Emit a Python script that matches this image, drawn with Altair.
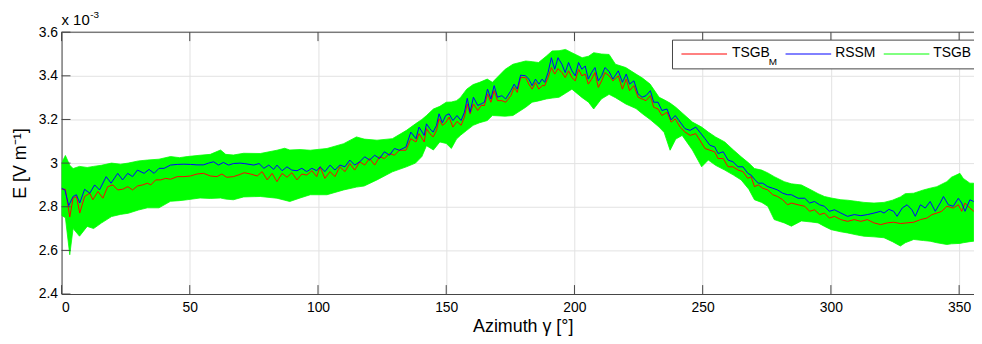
import altair as alt
import pandas as pd

# ---------------- data (E in units of 1e-3 V/m) ----------------
rssm_az = [0, 1.3, 2.8, 4.5, 5.8, 7.1, 9.0, 11.0, 12.9, 14.8, 17.4, 19.3, 21.9, 23.8, 25.8, 27.7, 29.6, 32.2, 34.1, 36.1,
           38.0, 40.0, 42.5, 45.1, 47.7, 50.3, 52.8, 55.4, 57.3, 59.3, 61.2, 63.1, 65.1, 67.0, 69.6,
           71.2, 75.0, 77.0, 78.9, 80.8, 82.7, 84.0, 86.0, 87.9, 89.8, 91.8, 93.7, 95.6, 97.6, 99.5, 100.8, 102.7, 104.7,
           106.6, 108.5, 110.5, 112.4, 114.3, 116.3, 118.2, 120.1, 122.1, 124.0, 125.9, 127.9, 129.8, 131.7, 134.3, 136.2,
           138.2, 139.4, 141.4,
           142.3, 143.6, 144.9, 146.2, 147.2, 148.5, 149.8, 151.1, 152.6, 154.2, 155.8, 157.1, 158.2, 159.3, 160.6, 162.3,
           163.6, 164.9, 166.1, 167.4, 168.7, 170.0, 171.7, 173.2, 175.2, 176.5, 177.7, 179.0, 181.0, 182.2, 183.5, 184.8,
           186.1, 187.4, 188.4, 189.7, 191.0, 192.3, 193.6, 195.1, 196.4, 197.7, 199.0, 200.3, 201.6, 202.9, 204.2, 205.4,
           206.7, 208.0, 209.3, 210.6, 211.9,
           213.5, 215.0, 217.1, 218.7, 220.2, 221.5, 223.2, 224.8, 226.4, 227.9, 229.6, 230.9, 232.6, 234.1, 236.1, 237.7,
           239.3, 241.2, 243.1, 245.1, 247.3, 248.9, 250.9, 252.8, 254.7, 256.0, 258.0, 259.9, 261.8, 263.8, 265.7, 267.6,
           268.9, 270.2, 271.7, 273.4, 275.4, 277.3, 279.2, 281.2, 283.1,
           284.6, 287.2, 289.8, 291.7, 293.6, 295.6, 297.5, 299.4, 301.4, 303.9, 306.5, 309.1, 311.7, 314.2, 316.8, 319.4,
           320.7, 322.6, 324.5, 325.8, 327.8, 329.7, 331.6, 332.9, 334.9, 336.8, 338.7, 340.7, 342.6, 343.9, 345.8, 347.7,
           349.7, 351.0, 352.3, 354.2, 355.7]
rssm_e = [2.885, 2.877, 2.805, 2.847, 2.855, 2.817, 2.88, 2.862, 2.9, 2.877, 2.938, 2.908, 2.953, 2.923, 2.953, 2.938, 2.968,
          2.953, 2.971, 2.953, 2.976, 2.976, 2.991, 2.994, 2.995, 2.994, 2.992, 2.992, 3.0, 3.006, 2.991, 3.003, 2.991, 2.998, 3.0,
          2.998, 2.991, 2.998, 2.976, 2.991, 2.971, 2.991, 2.965, 2.983, 2.968, 2.965, 2.976, 2.961, 2.976, 2.965, 2.983,
          2.961, 2.991, 2.968, 2.991, 2.983, 3.014, 2.991, 3.006, 3.029, 3.014, 3.036, 3.021, 3.052, 3.036, 3.067, 3.059,
          3.074, 3.142, 3.112, 3.165, 3.127,
          3.18, 3.158, 3.142, 3.173, 3.226, 3.185, 3.218, 3.226, 3.195, 3.218, 3.195, 3.233, 3.297, 3.233, 3.302, 3.264,
          3.271, 3.279, 3.339, 3.294, 3.355, 3.302, 3.309, 3.294, 3.332, 3.362, 3.339, 3.403, 3.4, 3.385, 3.355, 3.385,
          3.362, 3.385, 3.37, 3.415, 3.483, 3.43, 3.483, 3.453, 3.415, 3.461, 3.423, 3.4, 3.461, 3.43, 3.445, 3.385,
          3.415, 3.438, 3.377, 3.4, 3.438,
          3.42, 3.385, 3.423, 3.37, 3.408, 3.362, 3.377, 3.317, 3.302, 3.309, 3.332, 3.279, 3.279, 3.241, 3.248, 3.198,
          3.218, 3.188, 3.158, 3.15, 3.165, 3.142, 3.112, 3.082, 3.074, 3.044, 3.052, 3.014, 3.006, 2.983, 2.983, 2.953,
          2.945, 2.926, 2.908, 2.908, 2.892, 2.885, 2.877, 2.862, 2.855,
          2.855, 2.839, 2.839, 2.817, 2.824, 2.809, 2.802, 2.779, 2.786, 2.771, 2.756, 2.764, 2.759, 2.764, 2.771, 2.779,
          2.771, 2.788, 2.779, 2.756, 2.794, 2.809, 2.786, 2.756, 2.809, 2.794, 2.824, 2.779, 2.817, 2.847, 2.809, 2.802,
          2.839, 2.817, 2.779, 2.832, 2.824]

tsgbm_az = [0, 1.5, 3.2, 4.5, 5.8, 7.1, 9.0, 11.0, 12.2, 14.2, 16.1, 18.0, 20.0, 21.9, 23.8, 25.8, 27.7, 29.6, 31.6, 33.5,
            34.8, 36.7, 38.7, 40.6, 42.5, 45.1, 47.7, 50.3, 52.8, 55.4, 58.0, 60.6, 62.5, 64.4, 67.0, 69.6,
            71.2, 73.7, 76.3, 78.2, 80.2, 82.1, 84.0, 86.0, 87.9, 89.8, 91.8, 93.7, 95.6, 97.6, 99.5, 100.8, 102.7, 104.7,
            106.6, 108.5, 110.5, 112.4, 114.3, 116.3, 118.2, 120.1, 122.1, 124.0, 125.9, 127.9, 129.8, 131.7, 134.3, 136.2,
            138.2, 139.4, 141.4,
            142.3, 143.6, 144.9, 146.2, 147.2, 148.5, 149.8, 151.1, 152.6, 154.2, 155.8, 157.1, 158.2, 159.3, 160.6, 162.3,
            163.6, 164.9, 166.1, 167.4, 168.7, 170.0, 171.7, 173.2, 175.2, 176.5, 177.7, 179.0, 181.0, 182.2, 183.5, 184.8,
            186.1, 187.4, 188.4, 189.7, 191.0, 192.3, 193.6, 195.1, 196.4, 197.7, 199.0, 200.3, 201.6, 202.9, 204.2, 205.4,
            206.7, 208.0, 209.3, 210.6, 211.9,
            213.5, 215.0, 217.1, 218.7, 220.2, 221.5, 223.2, 224.8, 226.4, 227.9, 229.6, 230.9, 232.6, 234.1, 236.1, 237.7,
            239.3, 241.2, 243.1, 245.1, 247.3, 248.9, 250.9, 252.8, 254.7, 256.0, 258.0, 259.9, 261.8, 263.8, 265.7, 267.6,
            268.9, 270.2, 271.7, 273.4, 275.4, 277.3, 279.2, 281.2, 283.1,
            284.6, 287.2, 289.8, 291.7, 293.6, 295.6, 297.5, 299.4, 301.4, 303.9, 306.5, 309.1, 311.7, 314.2, 316.8, 319.4,
            322.0, 324.5, 327.1, 329.7, 332.3, 334.9, 337.4, 339.4, 341.3, 343.2, 345.2, 347.7, 349.7, 351.0, 352.3, 354.2,
            355.7]
tsgbm_e = [2.88, 2.88, 2.753, 2.839, 2.847, 2.771, 2.847, 2.862, 2.832, 2.87, 2.839, 2.892, 2.9, 2.877, 2.88, 2.892, 2.877,
           2.895, 2.9, 2.908, 2.9, 2.923, 2.923, 2.93, 2.926, 2.938, 2.938, 2.941, 2.95, 2.953, 2.941, 2.938, 2.95, 2.935,
           2.938, 2.948,
           2.956, 2.95, 2.941, 2.961, 2.923, 2.953, 2.915, 2.953, 2.935, 2.956, 2.923, 2.95, 2.945, 2.965, 2.938, 2.983,
           2.93, 2.961, 2.938, 2.983, 2.961, 2.998, 2.968, 3.006, 2.991, 3.021, 2.991, 3.029, 3.021, 3.044, 3.036, 3.059,
           3.059, 3.112, 3.097, 3.135, 3.097,
           3.158, 3.135, 3.12, 3.15, 3.203, 3.173, 3.185, 3.211, 3.165, 3.191, 3.173, 3.211, 3.271, 3.226, 3.271, 3.241,
           3.264, 3.264, 3.317, 3.279, 3.332, 3.286, 3.286, 3.279, 3.309, 3.347, 3.324, 3.392, 3.392, 3.362, 3.339, 3.37,
           3.339, 3.355, 3.355, 3.392, 3.438, 3.408, 3.433, 3.415, 3.392, 3.423, 3.392, 3.377, 3.43, 3.4, 3.408, 3.362,
           3.385, 3.415, 3.347, 3.377, 3.415,
           3.4, 3.377, 3.4, 3.339, 3.385, 3.332, 3.355, 3.302, 3.294, 3.286, 3.309, 3.256, 3.248, 3.218, 3.233, 3.188,
           3.203, 3.165, 3.142, 3.127, 3.135, 3.105, 3.067, 3.059, 3.052, 3.021, 3.021, 2.983, 2.983, 2.968, 2.961, 2.93,
           2.938, 2.892, 2.9, 2.885, 2.877, 2.855, 2.847, 2.832, 2.809,
           2.817, 2.809, 2.802, 2.779, 2.786, 2.764, 2.771, 2.748, 2.756, 2.741, 2.733, 2.741, 2.733, 2.741, 2.726, 2.718,
           2.726, 2.729, 2.723, 2.726, 2.729, 2.741, 2.748, 2.764, 2.771, 2.779, 2.802, 2.794, 2.809, 2.779, 2.817, 2.794,
           2.779]

# envelope of the TSGB ensemble (lower / upper edge of the green band)
tsgb_az = [0, 1.5, 3.2, 4.5, 7, 10, 12.5, 15.5, 19.5, 23, 26, 30, 33.5, 38, 42.5, 46, 49, 54, 58, 62, 64, 67, 71, 77.5,
           84, 87, 89, 93, 97, 103.5, 110, 115, 118, 123, 129, 134.5, 138, 140.5, 142.3, 145, 147.5, 150, 152, 154, 155.5,
           158, 160.5, 163, 166, 168, 173, 176, 181, 183.5, 186, 189, 191.3, 194, 196.5, 199, 203, 205.5, 207.5, 210.5,
           213.5, 216, 220, 224, 226.5, 229.5, 233, 235, 237.3, 239.5, 242, 246, 249.6, 252.2, 255, 258.6, 262, 265, 268,
           270.2, 273, 275.4, 277.9, 281.8, 284.6, 288.5, 292.3, 295, 297.5, 300.1, 303.9, 306.5, 310.4, 312.9, 316.8,
           320.7, 324, 327.1, 329, 332.3, 336.1, 338.7, 341.3, 345.2, 347, 350.3, 351.6, 354.2, 355.7]
tsgb_lo = [2.76, 2.75, 2.58, 2.70, 2.665, 2.71, 2.70, 2.725, 2.755, 2.765, 2.77, 2.785, 2.795, 2.795, 2.825, 2.828, 2.832,
           2.84, 2.838, 2.84, 2.835, 2.832, 2.845, 2.847, 2.839, 2.83, 2.824, 2.84, 2.855, 2.855, 2.877, 2.89, 2.895, 2.923,
           2.96, 2.983, 3.0, 3.03, 3.08, 3.06, 3.097, 3.09, 3.067, 3.11, 3.127, 3.15, 3.173, 3.185, 3.195, 3.218, 3.215,
           3.218, 3.256, 3.279, 3.285, 3.294, 3.298, 3.302, 3.32, 3.339, 3.30, 3.279, 3.248, 3.294, 3.315, 3.30, 3.271,
           3.25, 3.226, 3.20, 3.165, 3.14, 3.059, 3.11, 3.127, 3.06, 2.983, 3.014, 2.99, 2.968, 2.945, 2.923, 2.88, 2.832,
           2.82, 2.802, 2.741, 2.726, 2.711, 2.735, 2.73, 2.726, 2.71, 2.695, 2.685, 2.68, 2.67, 2.665, 2.662, 2.658, 2.64,
           2.62, 2.635, 2.65, 2.645, 2.642, 2.635, 2.627, 2.63, 2.632, 2.635, 2.64, 2.642]
tsgb_hi = [3.0, 3.035, 2.99, 2.975, 2.985, 2.98, 2.985, 2.99, 3.0, 2.995, 3.0, 3.01, 3.014, 3.018, 3.03, 3.025, 3.03, 3.036,
           3.04, 3.06, 3.04, 3.037, 3.045, 3.044, 3.059, 3.068, 3.06, 3.062, 3.059, 3.067, 3.089, 3.12, 3.11, 3.105, 3.112,
           3.15, 3.18, 3.2, 3.218, 3.248, 3.26, 3.279, 3.28, 3.286, 3.30, 3.339, 3.36, 3.37, 3.385, 3.37, 3.43, 3.453,
           3.468, 3.465, 3.461, 3.49, 3.514, 3.515, 3.521, 3.506, 3.483, 3.49, 3.506, 3.50, 3.498, 3.453, 3.438, 3.408,
           3.39, 3.362, 3.302, 3.29, 3.275, 3.256, 3.23, 3.188, 3.165, 3.142, 3.12, 3.097, 3.06, 3.029, 3.0, 2.975, 2.968,
           2.955, 2.938, 2.915, 2.905, 2.9, 2.877, 2.86, 2.847, 2.84, 2.832, 2.83, 2.824, 2.82, 2.817, 2.82, 2.83, 2.845,
           2.86, 2.862, 2.877, 2.885, 2.892, 2.915, 2.935, 2.953, 2.93, 2.908, 2.908]

x_ticks = [0, 50, 100, 150, 200, 250, 300, 350]
y_ticks = [2.4, 2.6, 2.8, 3.0, 3.2, 3.4, 3.6]
series_names = ["TSGB", "RSSM", "TSGB"]
series_colors = ["#ff0000", "#0000ff", "#00ff00"]

# ---------------- layout ----------------
X_MAX = 355.8
W, H = 920, 264
FONT = "Liberation Sans"
AX = "#444444"
GRID = "#e2e2e2"
TICK_LEN = 9

x_scale = alt.Scale(domain=[0, X_MAX], nice=False, zero=False)
y_scale = alt.Scale(domain=[2.4, 3.6], nice=False, zero=False)

x_axis = alt.Axis(values=x_ticks, grid=True, gridColor=GRID, gridWidth=1, tickSize=0, domainColor=AX,
                  labelFont=FONT, labelFontSize=14, labelColor="black", labelPadding=7,
                  title="Azimuth γ [°]", titleFont=FONT, titleFontSize=18, titleFontWeight="normal",
                  titleColor="black", titlePadding=3, titleX=465)
y_axis = alt.Axis(values=y_ticks, format="~g", grid=True, gridColor=GRID, gridWidth=1, tickSize=0, domainColor=AX,
                  labelFont=FONT, labelFontSize=14, labelColor="black", labelPadding=4,
                  title="E [V m⁻¹]", titleFont=FONT, titleFontSize=18, titleFontWeight="normal",
                  titleColor="black", titlePadding=9)

X = alt.X("az:Q", scale=x_scale, axis=x_axis)


def Y(field):
    return alt.Y(field, type="quantitative", scale=y_scale, axis=y_axis)


band_df = pd.DataFrame({"az": tsgb_az, "e": tsgb_lo, "hi": tsgb_hi})
red_df = pd.DataFrame({"az": tsgbm_az, "e": tsgbm_e})
blue_df = pd.DataFrame({"az": rssm_az, "e": rssm_e})
xt_df = pd.DataFrame({"az": x_ticks})
yt_df = pd.DataFrame({"e": y_ticks})
one = pd.DataFrame({"k": [0]})

band = alt.Chart(band_df).mark_area(color=series_colors[2], opacity=1, clip=True,
                                    stroke=series_colors[2], strokeWidth=0.8).encode(
    x=X, y=Y("e"), y2=alt.Y2("hi"))
red = alt.Chart(red_df).mark_line(color=series_colors[0], strokeWidth=1, clip=True).encode(x=X, y=Y("e"))
blue = alt.Chart(blue_df).mark_line(color=series_colors[1], strokeWidth=1, clip=True).encode(x=X, y=Y("e"))

bottom_ticks = alt.Chart(xt_df).mark_rule(color=AX).encode(x=X, y=alt.value(H), y2=alt.value(H - TICK_LEN))
top_ticks = alt.Chart(xt_df).mark_rule(color=AX).encode(x=X, y=alt.value(0), y2=alt.value(TICK_LEN))
left_ticks = alt.Chart(yt_df).mark_rule(color=AX).encode(y=Y("e"), x=alt.value(0), x2=alt.value(TICK_LEN))
top_border = alt.Chart(one).mark_rule(color=AX).encode(x=alt.value(0), x2=alt.value(W), y=alt.value(0))

exp_base = alt.Chart(one).mark_text(text="x 10", align="left", baseline="middle", font=FONT,
                                    fontSize=15, color="black").encode(x=alt.value(0), y=alt.value(-12))
exp_sup = alt.Chart(one).mark_text(text="-3", align="left", baseline="middle", font=FONT,
                                   fontSize=10, color="black").encode(x=alt.value(29), y=alt.value(-17))

# legend (drawn by hand, as in the original it is a boxed horizontal legend)
leg_box = alt.Chart(one).mark_rect(fill="white", stroke=AX, strokeWidth=1).encode(
    x=alt.value(616), x2=alt.value(960), y=alt.value(8), y2=alt.value(37))
leg_layers = [leg_box]
leg_line_x = [625, 730, 829]
leg_text_x = [676, 780, 879]
for i in range(3):
    leg_layers.append(alt.Chart(one).mark_rule(color=series_colors[i], strokeWidth=1).encode(
        x=alt.value(leg_line_x[i]), x2=alt.value(leg_line_x[i] + 46), y=alt.value(22)))
    leg_layers.append(alt.Chart(one).mark_text(text=series_names[i], align="left", baseline="middle", font=FONT,
                                               fontSize=14, color="black").encode(
        x=alt.value(leg_text_x[i]), y=alt.value(21)))
leg_layers.append(alt.Chart(one).mark_text(text="M", align="left", baseline="middle", font=FONT,
                                           fontSize=10, color="black").encode(x=alt.value(713), y=alt.value(30)))

chart = alt.layer(band, red, blue, bottom_ticks, top_ticks, left_ticks, top_border, exp_base, exp_sup,
                  *leg_layers).properties(
    width=W, height=H,
    padding={"left": 54, "top": 23, "right": 0, "bottom": 48},
    autosize=alt.AutoSizeParams(type="none"),
    background="white",
).configure_view(stroke=None)

chart.save("out.html", embed_options={"renderer": "svg", "actions": False})
